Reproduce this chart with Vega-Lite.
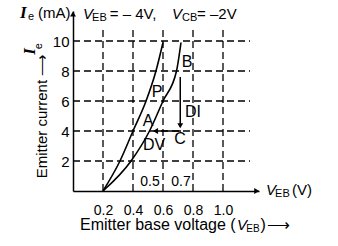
{
  "$schema": "https://vega.github.io/schema/vega-lite/v6.json",
  "autosize": "none",
  "width": 186,
  "height": 180,
  "padding": {"left": 73, "top": 11, "right": 79, "bottom": 55},
  "background": "white",
  "config": {"view": {"stroke": null}, "font": "Liberation Sans"},
  "datasets": {
    "curves": [
      {"curve": "P", "x": 0.2, "y": 0}, {"curve": "P", "x": 0.313, "y": 2}, {"curve": "P", "x": 0.4, "y": 4},
      {"curve": "P", "x": 0.487, "y": 6}, {"curve": "P", "x": 0.553, "y": 8}, {"curve": "P", "x": 0.6, "y": 9.9},
      {"curve": "B", "x": 0.2, "y": 0}, {"curve": "B", "x": 0.387, "y": 2}, {"curve": "B", "x": 0.51, "y": 4},
      {"curve": "B", "x": 0.6, "y": 6}, {"curve": "B", "x": 0.69, "y": 8}, {"curve": "B", "x": 0.72, "y": 9.9}
    ],
    "vgrid": [
      {"x": 0.2, "y": 0, "y2": 10.85}, {"x": 0.4, "y": 0, "y2": 10.85}, {"x": 0.6, "y": 0, "y2": 10.85},
      {"x": 0.8, "y": 0, "y2": 10.85}, {"x": 1.0, "y": 0, "y2": 10.85}
    ],
    "hgrid": [
      {"x": 0, "x2": 1.18, "y": 2}, {"x": 0, "x2": 1.18, "y": 4}, {"x": 0, "x2": 1.18, "y": 6},
      {"x": 0, "x2": 1.18, "y": 8}, {"x": 0, "x2": 1.18, "y": 10}
    ],
    "arrows": [
      {"x": 0.715, "y": 7.6, "x2": 0.715, "y2": 4.3},
      {"x": 0.72, "y": 4, "x2": 0.54, "y2": 4}
    ],
    "heads": [
      {"x": 0.715, "y": 4.35, "shape": "triangle-down"},
      {"x": 0.55, "y": 4, "shape": "triangle-left"},
      {"x": 1.225, "y": 0, "shape": "triangle-right"},
      {"x": 0, "y": 11.8, "shape": "triangle-up"}
    ],
    "labels": [
      {"x": 0.56, "y": 6.6, "t": "P"}, {"x": 0.5, "y": 4.67, "t": "A"}, {"x": 0.76, "y": 8.6, "t": "B"},
      {"x": 0.713, "y": 3.47, "t": "C"}, {"x": 0.8, "y": 5.27, "t": "DI"}, {"x": 0.54, "y": 3.07, "t": "DV"}
    ],
    "small": [
      {"x": 0.513, "y": 0.6, "t": "0.5"}, {"x": 0.72, "y": 0.6, "t": "0.7"}
    ],
    "plain": [
      {"x": -0.233, "y": 11.87, "t": "(mA)"},
      {"x": 0.245, "y": 11.8, "t": "=  –  4V,"},
      {"x": 0.827, "y": 11.8, "t": "= –2V"},
      {"x": 1.46, "y": 0.07, "t": "(V)"}
    ],
    "xtitle": [
      {"x": 0.047, "y": -2.27, "t": "Emitter base voltage ("},
      {"x": 1.25, "y": -2.27, "t": ")"},
      {"x": 1.295, "y": -2.27, "t": "⟶"}
    ],
    "italicV": [
      {"x": 0.067, "y": 11.8, "t": "V"},
      {"x": 0.66, "y": 11.8, "t": "V"},
      {"x": 1.287, "y": 0.07, "t": "V"},
      {"x": 1.093, "y": -2.27, "t": "V"}
    ],
    "subs": [
      {"x": 0.127, "y": 11.55, "t": "EB"},
      {"x": 0.727, "y": 11.55, "t": "CB"},
      {"x": 1.347, "y": -0.2, "t": "EB"}
    ],
    "subsX": [
      {"x": 1.155, "y": -2.53, "t": "EB"}
    ],
    "bigI": [
      {"x": -0.353, "y": 11.87, "t": "I"}
    ],
    "subE": [
      {"x": -0.3, "y": 11.6, "t": "e"}
    ],
    "ytitle": [
      {"x": -0.207, "y": 5.0, "t": "Emitter current ⟶"}
    ],
    "yI": [
      {"x": -0.29, "y": 9.3, "t": "I"}
    ],
    "ye": [
      {"x": -0.225, "y": 9.65, "t": "e"}
    ]
  },
  "encoding": {
    "x": {"field": "x", "type": "quantitative",
      "scale": {"domain": [0, 1.24], "nice": false, "zero": false},
      "axis": {"values": [0.2, 0.4, 0.6, 0.8, 1.0], "format": ".1f", "title": null, "grid": false, "ticks": false,
        "domainColor": "black", "domainWidth": 1.5, "labelColor": "black", "labelFontSize": 14,
        "labelFont": "Liberation Sans", "labelPadding": 12}},
    "y": {"field": "y", "type": "quantitative",
      "scale": {"domain": [0, 12], "nice": false, "zero": false},
      "axis": {"values": [2, 4, 6, 8, 10], "title": null, "grid": false, "ticks": false,
        "domainColor": "black", "domainWidth": 1.5, "labelColor": "black", "labelFontSize": 15,
        "labelFont": "Liberation Sans", "labelPadding": 4}}
  },
  "layer": [
    {"data": {"name": "vgrid"}, "mark": {"type": "rule", "color": "black", "strokeWidth": 1.3, "strokeDash": [7, 4]},
      "encoding": {"y2": {"field": "y2"}}},
    {"data": {"name": "hgrid"}, "mark": {"type": "rule", "color": "black", "strokeWidth": 1.3, "strokeDash": [7, 4]},
      "encoding": {"x2": {"field": "x2"}}},
    {"data": {"name": "curves"}, "mark": {"type": "line", "color": "black", "strokeWidth": 1.6, "interpolate": "monotone"},
      "encoding": {"detail": {"field": "curve"}}},
    {"data": {"name": "arrows"}, "mark": {"type": "rule", "color": "black", "strokeWidth": 1.5},
      "encoding": {"x2": {"field": "x2"}, "y2": {"field": "y2"}}},
    {"data": {"name": "heads"}, "mark": {"type": "point", "filled": true, "color": "black", "opacity": 1, "size": 35},
      "encoding": {"shape": {"field": "shape", "type": "nominal", "scale": null, "legend": null}}},
    {"data": {"name": "labels"}, "mark": {"type": "text", "fontSize": 16, "align": "center", "baseline": "middle", "color": "black"},
      "encoding": {"text": {"field": "t"}}},
    {"data": {"name": "small"}, "mark": {"type": "text", "fontSize": 14, "align": "center", "baseline": "middle", "color": "black"},
      "encoding": {"text": {"field": "t"}}},
    {"data": {"name": "plain"}, "mark": {"type": "text", "fontSize": 15, "align": "left", "baseline": "middle", "color": "black"},
      "encoding": {"text": {"field": "t"}}},
    {"data": {"name": "xtitle"}, "mark": {"type": "text", "fontSize": 16, "align": "left", "baseline": "middle", "color": "black"},
      "encoding": {"text": {"field": "t"}}},
    {"data": {"name": "italicV"}, "mark": {"type": "text", "fontSize": 15, "fontStyle": "italic", "align": "left", "baseline": "middle", "color": "black"},
      "encoding": {"text": {"field": "t"}}},
    {"data": {"name": "subs"}, "mark": {"type": "text", "fontSize": 11, "align": "left", "baseline": "middle", "color": "black"},
      "encoding": {"text": {"field": "t"}}},
    {"data": {"name": "subsX"}, "mark": {"type": "text", "fontSize": 10, "align": "left", "baseline": "middle", "color": "black"},
      "encoding": {"text": {"field": "t"}}},
    {"data": {"name": "bigI"}, "mark": {"type": "text", "font": "Liberation Serif", "fontSize": 17, "fontStyle": "italic", "fontWeight": "bold", "align": "left", "baseline": "middle", "color": "black"},
      "encoding": {"text": {"field": "t"}}},
    {"data": {"name": "subE"}, "mark": {"type": "text", "fontSize": 11, "align": "left", "baseline": "middle", "color": "black"},
      "encoding": {"text": {"field": "t"}}},
    {"data": {"name": "ytitle"}, "mark": {"type": "text", "fontSize": 15, "angle": 270, "align": "center", "baseline": "middle", "color": "black"},
      "encoding": {"text": {"field": "t"}}},
    {"data": {"name": "yI"}, "mark": {"type": "text", "font": "Liberation Serif", "fontSize": 17, "fontStyle": "italic", "fontWeight": "bold", "angle": 270, "align": "center", "baseline": "middle", "color": "black"},
      "encoding": {"text": {"field": "t"}}},
    {"data": {"name": "ye"}, "mark": {"type": "text", "fontSize": 11, "angle": 270, "align": "center", "baseline": "middle", "color": "black"},
      "encoding": {"text": {"field": "t"}}}
  ]
}
